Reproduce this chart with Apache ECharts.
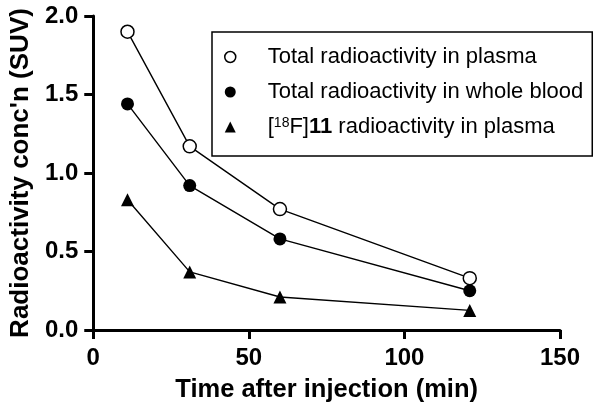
<!DOCTYPE html>
<html>
<head>
<meta charset="utf-8">
<script src="https://cdn.jsdelivr.net/npm/echarts@6/dist/echarts.min.js"></script>
<style>html,body{margin:0;padding:0;background:#fff}#c{width:601px;height:413px}</style>
</head>
<body>
<div id="c"></div>
<script>
var times = [11, 31, 60, 121];
var plasmaTotal = [1.90, 1.17, 0.77, 0.33];
var bloodTotal = [1.44, 0.92, 0.58, 0.25];
var parentPlasma = [0.83, 0.37, 0.21, 0.125];
var seriesNames = ['Total radioactivity in plasma', 'Total radioactivity in whole blood', '[18F]11 radioactivity in plasma'];
var xTicks = [0, 50, 100, 150];
var yTicks = [0, 0.5, 1.0, 1.5, 2.0];

function pairs(xs, ys) { return xs.map(function (x, i) { return [x, ys[i]]; }); }

var chart = echarts.init(document.getElementById('c'), null, { renderer: 'canvas' });
var font = 'Arial, "Liberation Sans", Helvetica, sans-serif';
var lf = 22;
chart.setOption({
  animation: false,
  grid: { left: 90, right: 41, top: 16, bottom: 83, containLabel: false },
  xAxis: {
    type: 'value', min: xTicks[0], max: xTicks[xTicks.length - 1], interval: 50,
    name: 'Time after injection (min)', nameLocation: 'middle', nameGap: 47,
    nameTextStyle: { fontFamily: font, fontWeight: 'bold', fontSize: 25.5, color: '#000' },
    axisLine: { lineStyle: { color: '#000', width: 3 } },
    axisTick: { show: true, inside: false, length: 9, lineStyle: { color: '#000', width: 3 } },
    axisLabel: { fontFamily: font, fontWeight: 'bold', fontSize: 24, color: '#000', margin: 16 },
    splitLine: { show: false }
  },
  yAxis: {
    type: 'value', min: yTicks[0], max: yTicks[yTicks.length - 1], interval: 0.5,
    name: "Radioactivity conc'n (SUV)", nameLocation: 'middle', nameGap: 52, nameRotate: 90,
    nameTextStyle: { fontFamily: font, fontWeight: 'bold', fontSize: 26, color: '#000' },
    axisLine: { lineStyle: { color: '#000', width: 3 } },
    axisTick: { show: true, inside: false, length: 9, lineStyle: { color: '#000', width: 3 } },
    axisLabel: { fontFamily: font, fontWeight: 'bold', fontSize: 24, color: '#000', margin: 15,
      formatter: function (v) { return v.toFixed(1); } },
    splitLine: { show: false }
  },
  legend: {
    orient: 'vertical', left: 212, top: 32,
    borderColor: '#000', borderWidth: 1.5, padding: [14, 9, 17, 12],
    itemWidth: 11, itemHeight: 11, itemGap: 13,
    textStyle: { fontFamily: font, fontSize: lf, lineHeight: 22, color: '#000', padding: [0, 0, 0, 27],
      rich: {
        sup: { fontFamily: font, fontSize: 14, lineHeight: 22, verticalAlign: 'top', color: '#000', padding: [0, 0, 9, 0] },
        b: { fontFamily: font, fontSize: lf, lineHeight: 22, fontWeight: 'bold', color: '#000' },
        n: { fontFamily: font, fontSize: lf, lineHeight: 22, color: '#000' }
      } },
    formatter: function (name) {
      if (name === seriesNames[2]) return '{n|[}{sup|18}{n|F]}{b|11}{n| radioactivity in plasma}';
      return name;
    },
    data: [
      { name: seriesNames[0], icon: 'circle', itemStyle: { color: '#fff', borderColor: '#000', borderWidth: 1.5 } },
      { name: seriesNames[1], icon: 'circle', itemStyle: { color: '#000', borderColor: '#000', borderWidth: 0 } },
      { name: seriesNames[2], icon: 'triangle', itemStyle: { color: '#000', borderColor: '#000', borderWidth: 0 } }
    ]
  },
  series: [
    { name: seriesNames[0], type: 'line', data: pairs(times, plasmaTotal), symbol: 'circle', symbolSize: 13,
      lineStyle: { color: '#000', width: 1.4 }, itemStyle: { color: '#fff', borderColor: '#000', borderWidth: 1.5 }, z: 3 },
    { name: seriesNames[1], type: 'line', data: pairs(times, bloodTotal), symbol: 'circle', symbolSize: 13,
      lineStyle: { color: '#000', width: 1.4 }, itemStyle: { color: '#000', borderColor: '#000', borderWidth: 0 }, z: 3 },
    { name: seriesNames[2], type: 'line', data: pairs(times, parentPlasma), symbol: 'triangle', symbolSize: 13,
      lineStyle: { color: '#000', width: 1.4 }, itemStyle: { color: '#000', borderColor: '#000', borderWidth: 0 }, z: 3 }
  ]
});
</script>
</body>
</html>
